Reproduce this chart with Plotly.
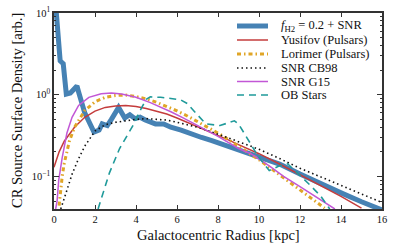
import plotly.graph_objects as go

# f_H2 = 0.2 + SNR
r_fh2 = [0.1, 0.3, 0.45, 0.6, 0.8, 1.12, 1.2, 1.5, 1.95, 2.2, 2.35, 2.6, 2.8, 3.15, 3.45, 3.7, 3.95,
         4.2, 4.45, 4.7, 4.95, 5.35, 5.7, 6.2, 6.7, 7.2, 7.7, 8.5, 9.0, 9.5, 10.0, 10.5, 11.0,
         12.0, 13.0, 14.0, 15.0, 16.0]
v_fh2 = [11, 2.6, 2.4, 1.02, 1.05, 1.28, 1.08, 0.6, 0.35, 0.37, 0.44, 0.42, 0.50, 0.70, 0.52, 0.57, 0.51,
         0.53, 0.49, 0.46, 0.44, 0.44, 0.40, 0.37, 0.33, 0.30, 0.275, 0.235, 0.21, 0.195, 0.175, 0.157, 0.142,
         0.107, 0.081, 0.063, 0.049, 0.039]

# Yusifov (Pulsars)
r_yus = [0, 0.25, 0.5, 0.75, 1.0, 1.5, 2.0, 2.5, 3.0, 3.5, 4.0, 4.5, 5.0, 5.5, 6.0, 6.5, 7.0, 7.5,
         8.0, 8.5, 9.0, 9.5, 10.0, 11.0, 12.0, 13.0, 14.0, 15.0]
v_yus = [0.13, 0.2, 0.27, 0.33, 0.40, 0.53, 0.63, 0.70, 0.73, 0.74, 0.72, 0.68, 0.63, 0.58, 0.52, 0.46, 0.41, 0.36,
         0.32, 0.28, 0.245, 0.215, 0.19, 0.142, 0.105, 0.078, 0.057, 0.041]

# Lorimer (Pulsars)
r_lor = [0.25, 0.3, 0.4, 0.5, 0.75, 1.0, 1.5, 2.0, 2.5, 3.0, 3.5, 4.0, 4.5, 5.0, 5.5, 6.0, 6.5, 7.0,
         7.5, 8.0, 8.5, 9.0, 9.5, 10.0, 10.5, 11.0, 11.5, 12.0, 12.5, 13.0, 13.2]
v_lor = [0.044, 0.062, 0.10, 0.145, 0.27, 0.40, 0.64, 0.82, 0.93, 0.98, 0.99, 0.95, 0.89, 0.81, 0.72, 0.635, 0.55, 0.47,
         0.40, 0.34, 0.283, 0.235, 0.194, 0.16, 0.13, 0.105, 0.086, 0.07, 0.056, 0.045, 0.041]

# SNR CB98
r_cb = [0.33, 0.4, 0.6, 0.9, 1.2, 1.5, 2.0, 2.5, 3.0, 3.5, 4.0, 4.5, 5.0, 5.5, 6.0, 6.5, 7.0, 7.5, 8.0,
        8.5, 9.0, 9.5, 10.0, 10.5, 11.0, 12.0, 13.0, 14.0, 15.0, 16.0]
v_cb = [0.04, 0.045, 0.066, 0.11, 0.165, 0.235, 0.36, 0.43, 0.46, 0.48, 0.50, 0.51, 0.505, 0.49, 0.46, 0.43, 0.40, 0.365, 0.33,
        0.30, 0.27, 0.24, 0.215, 0.19, 0.166, 0.126, 0.099, 0.077, 0.06, 0.048]

# SNR G15
r_g15 = [0.08, 0.15, 0.23, 0.4, 0.63, 0.88, 1.2, 1.7, 2.3, 2.8, 3.3, 4.0, 4.7, 5.2, 5.7, 6.3, 7.0, 8.0,
         9.0, 9.6, 10.5, 11.2, 12.0, 12.8, 13.7]
v_g15 = [0.04, 0.05, 0.09, 0.17, 0.34, 0.53, 0.74, 0.93, 1.03, 1.05, 1.02, 0.93, 0.80, 0.71, 0.62, 0.52, 0.42, 0.31,
         0.22, 0.19, 0.135, 0.10, 0.075, 0.056, 0.04]

# OB Stars
r_ob = [2.15, 2.7, 3.2, 3.9, 4.2, 4.5, 4.7, 5.2, 5.7, 6.2, 6.5, 7.1, 7.4, 8.1, 8.8, 9.0, 9.3, 9.6, 10.0,
        10.5, 11.0, 11.4, 12.0, 12.5, 13.0, 13.45]
v_ob = [0.04, 0.11, 0.22, 0.44, 0.64, 0.88, 0.94, 0.93, 0.90, 0.86, 0.78, 0.53, 0.44, 0.42, 0.48, 0.44, 0.33, 0.24, 0.17,
        0.118, 0.135, 0.143, 0.104, 0.078, 0.058, 0.04]

y_tickvals = [0.1, 1, 10]
y_ticktext = ["10<sup>\u22121</sup>", "10<sup>0</sup>", "10<sup>1</sup>"]
x_tickvals = [0, 2, 4, 6, 8, 10, 12, 14, 16]

series = [
    ("<i>f</i><sub>H2</sub> = 0.2 + SNR", r_fh2, v_fh2, "#4682b4", 5, "solid"),
    ("Yusifov (Pulsars)", r_yus, v_yus, "#c43c3c", 1.5, "solid"),
    ("Lorimer (Pulsars)", r_lor, v_lor, "#e0a526", 3, "4px,3px,1.5px,3px"),
    ("SNR CB98", r_cb, v_cb, "#111111", 1.6, "1.5px,3px"),
    ("SNR G15", r_g15, v_g15, "#c257d6", 1.5, "solid"),
    ("OB Stars", r_ob, v_ob, "#1f9a9a", 1.6, "7px,5px"),
]

FONT = "Liberation Serif"
fig = go.Figure()
for name, xs, ys, col, w, dash in series:
    fig.add_trace(go.Scatter(x=xs, y=ys, mode="lines", name=name,
                             line=dict(color=col, width=w, dash=dash),
                             showlegend=False, cliponaxis=True))

# custom legend (tight spacing like the reference)
L, R, T, B = 54, 382, 13, 209
def px2paper_x(px):
    return (px - L) / (R - L)
def px2paper_y(py):
    return 1 - (py - T) / (B - T)

ys_px = [26, 40, 54, 68, 81.5, 95]
shapes = []
annotations = []
for (name, xs, ys, col, w, dash), py in zip(series, ys_px):
    shapes.append(dict(type="line", xref="paper", yref="paper",
                       x0=px2paper_x(237), x1=px2paper_x(268),
                       y0=px2paper_y(py), y1=px2paper_y(py),
                       line=dict(color=col, width=w, dash=dash)))
    annotations.append(dict(text=name, xref="paper", yref="paper",
                            x=px2paper_x(279), y=px2paper_y(py),
                            xanchor="left", yanchor="middle", showarrow=False,
                            font=dict(family=FONT, size=12.5, color="#111")))

# axis titles placed precisely
annotations.append(dict(text="Galactocentric Radius [kpc]", xref="paper", yref="paper",
                        x=px2paper_x(218), y=px2paper_y(235), xanchor="center", yanchor="middle",
                        showarrow=False, font=dict(family=FONT, size=14.5, color="#111")))
annotations.append(dict(text="CR Source Surface Density [arb.]", xref="paper", yref="paper",
                        x=px2paper_x(17), y=px2paper_y(111), xanchor="center", yanchor="middle",
                        textangle=-90, showarrow=False, font=dict(family=FONT, size=14.5, color="#111")))

minor_y = [0.04, 0.05, 0.06, 0.07, 0.08, 0.09,
           0.2, 0.3, 0.4, 0.5, 0.6, 0.7, 0.8, 0.9,
           2, 3, 4, 5, 6, 7, 8, 9]

fig.update_layout(
    width=395, height=251,
    margin=dict(l=L, r=395 - R, t=T, b=251 - B),
    paper_bgcolor="white", plot_bgcolor="white",
    font=dict(family=FONT, color="#111"),
    shapes=shapes, annotations=annotations,
    showlegend=False,
    xaxis=dict(range=[0, 16], tickvals=x_tickvals, ticks="inside", ticklen=4, tickwidth=1,
               tickcolor="#333", showline=True, linecolor="#333", linewidth=1.6,
               mirror="ticks", showgrid=False, zeroline=False, automargin=False,
               tickfont=dict(family=FONT, size=10.5)),
    yaxis=dict(type="log", range=[-1.39794, 1], tickvals=y_tickvals, ticktext=y_ticktext,
               ticks="inside", ticklen=5, tickwidth=1, tickcolor="#333",
               showline=True, linecolor="#333", linewidth=1.6, mirror="ticks",
               showgrid=False, zeroline=False, automargin=False,
               minor=dict(tickvals=minor_y, ticks="inside", ticklen=2.5, tickcolor="#333", showgrid=False),
               tickfont=dict(family=FONT, size=10.5)),
)

fig.write_html("out.html", config={"displayModeBar": False},
               post_script="document.body.style.margin='0px';document.body.style.overflow='hidden';")
